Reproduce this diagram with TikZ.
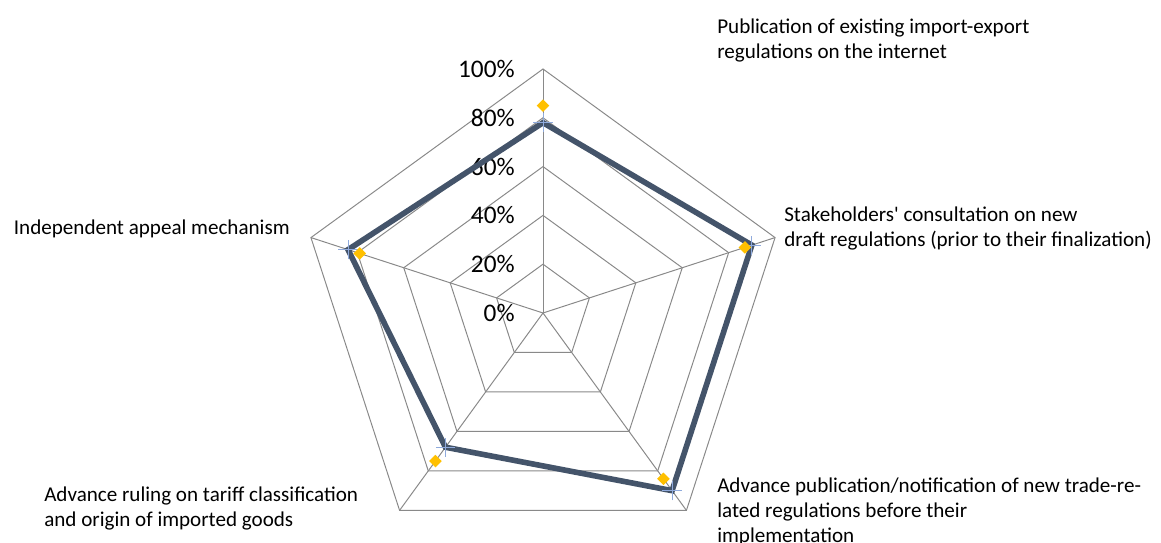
\documentclass[tikz,border=0pt]{standalone}
\usepackage{fontspec}
\setmainfont{Carlito}
\usepackage{tikz}
\usetikzlibrary{shapes.geometric}

\definecolor{gridgray}{HTML}{898989}
\definecolor{seriesblue}{HTML}{44546A}
\definecolor{crossblue}{HTML}{8FAADC}
\definecolor{markyellow}{HTML}{FFC000}

\begin{document}
\begin{tikzpicture}[
        gridline/.style = {draw=gridgray, line width=0.7pt},
        levellabel/.style = {anchor=east, inner sep=0pt, font=\fontsize{18}{21}\selectfont},
        catlabel/.style = {inner sep=0pt, align=left, font=\fontsize{15}{17.8}\selectfont},
        ydiamond/.style = {diamond, fill=markyellow, inner sep=0pt, minimum width=0.32cm, minimum height=0.32cm}]
        \useasboundingbox (0,0) rectangle (29.025,13.575);
        \begin{scope}[shift={(13.575cm,5.75cm)}, x=6.1cm, y=6.1cm]
        \coordinate (c) at (0,0);
        % rings
        \draw[gridline] (90:0.2)--(18:0.2)--(-54:0.2)--(-126:0.2)--(162:0.2)--cycle;
        \draw[gridline] (90:0.4)--(18:0.4)--(-54:0.4)--(-126:0.4)--(162:0.4)--cycle;
        \draw[gridline] (90:0.6)--(18:0.6)--(-54:0.6)--(-126:0.6)--(162:0.6)--cycle;
        \draw[gridline] (90:0.8)--(18:0.8)--(-54:0.8)--(-126:0.8)--(162:0.8)--cycle;
        \draw[gridline] (90:1)--(18:1)--(-54:1)--(-126:1)--(162:1)--cycle;
        % spokes
        \draw[gridline] (c)--(90:1);
        \draw[gridline] (c)--(18:1);
        \draw[gridline] (c)--(-54:1);
        \draw[gridline] (c)--(-126:1);
        \draw[gridline] (c)--(162:1);
        \node[levellabel] (p0) at (-0.115,0) {0\%};
        \node[levellabel] (p20) at (-0.115,0.2) {20\%};
        \node[levellabel] (p40) at (-0.115,0.4) {40\%};
        \node[levellabel] (p60) at (-0.115,0.6) {60\%};
        \node[levellabel] (p80) at (-0.115,0.8) {80\%};
        \node[levellabel] (p100) at (-0.115,1) {100\%};
        % dark series
        \coordinate (s1) at (90:0.78);
        \coordinate (s2) at (18:0.90);
        \coordinate (s3) at (-54:0.90);
        \coordinate (s4) at (-126:0.68);
        \coordinate (s5) at (162:0.84);
        \draw[seriesblue, line width=4pt] (s1)--(s2)--(s3)--(s4)--(s5)--cycle;
        \draw[crossblue, line width=0.6pt] (s1) +(-0.24cm,0)--+(0.24cm,0) +(0,-0.24cm)--+(0,0.24cm);
        \draw[crossblue, line width=0.6pt] (s2) +(-0.24cm,0)--+(0.24cm,0) +(0,-0.24cm)--+(0,0.24cm);
        \draw[crossblue, line width=0.6pt] (s3) +(-0.24cm,0)--+(0.24cm,0) +(0,-0.24cm)--+(0,0.24cm);
        \draw[crossblue, line width=0.6pt] (s4) +(-0.24cm,0)--+(0.24cm,0) +(0,-0.24cm)--+(0,0.24cm);
        \draw[crossblue, line width=0.6pt] (s5) +(-0.24cm,0)--+(0.24cm,0) +(0,-0.24cm)--+(0,0.24cm);
        % yellow markers
        \node[ydiamond] (d1) at (90:0.85) {};
        \node[ydiamond] (d2) at (18:0.87) {};
        \node[ydiamond] (d3) at (-54:0.84) {};
        \node[ydiamond] (d4) at (-126:0.75) {};
        \node[ydiamond] (d5) at (162:0.79) {};
        \end{scope}
        % categories (base = last line)
        \node[catlabel, anchor=base west] (cat1) at (17.925,12.12) {Publication of existing import-export\\regulations on the internet};
        \node[catlabel, anchor=base west] (cat2) at (19.6,7.4) {Stakeholders\textquotesingle{} consultation on new\\draft regulations (prior to their finalization)};
        \node[catlabel, anchor=base west] (cat3) at (17.925,0.02) {Advance publication/notification of new trade-re-\\lated regulations before their\\implementation};
        \node[catlabel, anchor=base west] (cat4) at (1.1,0.42) {Advance ruling on tariff classification\\and origin of imported goods};
        \node[catlabel, anchor=base east] (cat5) at (7.25,7.7) {Independent appeal mechanism};
\end{tikzpicture}
\end{document}
